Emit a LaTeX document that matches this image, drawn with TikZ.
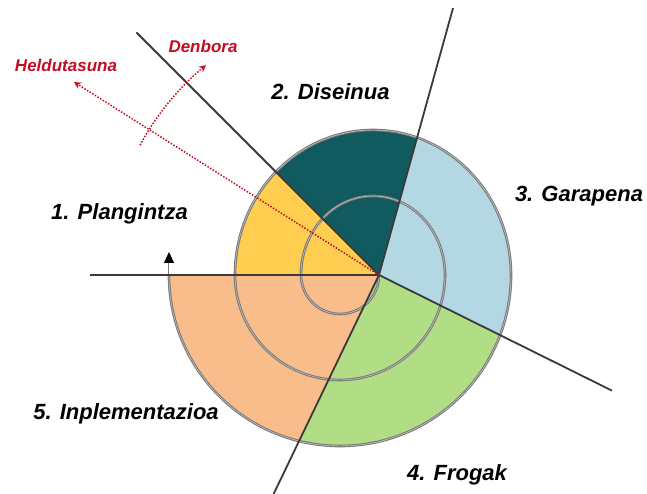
\documentclass[tikz,border=0pt]{standalone}
\usepackage{fontspec}
\setmainfont{Liberation Sans}
\usetikzlibrary{arrows.meta}

\definecolor{planfill}{HTML}{FFCD50}
\definecolor{designfill}{HTML}{105A60}
\definecolor{devfill}{HTML}{B3D8E4}
\definecolor{testfill}{HTML}{B1DE85}
\definecolor{implfill}{HTML}{F8BD8B}
\definecolor{axisgray}{HTML}{3A3A3A}
\definecolor{spiralgray}{HTML}{7A7A7A}
\definecolor{redline}{HTML}{C20E24}

\tikzset{
  outline/.style={insert path={
    (-144,0) arc[start angle=180,end angle=0,x radius=138,y radius=145]
             arc[start angle=0,end angle=-180,radius=171] -- cycle}},
  spiralline/.style={draw=spiralgray, line width=1.1pt,
    double=spiralgray!35!white, double distance=0.45pt},
  radial/.style={draw=axisgray, line width=1.8pt},
  reddot/.style={draw=redline, line width=1.5pt, dash pattern=on 1.5pt off 1.6pt,
    -{Stealth[length=7pt,width=7pt]}},
  phase/.style={font=\fontsize{22}{26}\selectfont\bfseries\itshape, anchor=base, inner sep=0pt},
  axislabel/.style={font=\fontsize{17}{20}\selectfont\bfseries\itshape, text=redline, anchor=base, inner sep=0pt}
}

\begin{document}
\begin{tikzpicture}[x=1pt,y=1pt]
\useasboundingbox (-379,-219) rectangle (268,275);
\fill[white] (-379,-219) rectangle (268,275);

\coordinate (C) at (0,0);

% coloured phase sectors, each one cut out of the spiral's outer outline
\begin{scope}
  \clip (C) -- (135:600) -- (180:600) -- cycle;
  \fill[planfill, outline];
\end{scope}
\begin{scope}
  \clip (C) -- (74.5:600) -- (105:600) -- (135:600) -- cycle;
  \fill[designfill, outline];
\end{scope}
\begin{scope}
  \clip (C) -- (-26.4:600) -- (24:600) -- (74.5:600) -- cycle;
  \fill[devfill, outline];
\end{scope}
\begin{scope}
  \clip (C) -- (-115.7:600) -- (-71:600) -- (-26.4:600) -- cycle;
  \fill[testfill, outline];
\end{scope}
\begin{scope}
  \clip (C) -- (180:600) -- (212:600) -- (244.3:600) -- cycle;
  \fill[implfill, outline];
\end{scope}

% the spiral itself, half turns alternating between two centres
\draw[spiralline] (C)
  arc[start angle=0,end angle=-180,radius=39]
  arc[start angle=180,end angle=0,x radius=72,y radius=79]
  arc[start angle=0,end angle=-180,radius=105]
  arc[start angle=180,end angle=0,x radius=138,y radius=145]
  arc[start angle=0,end angle=-180,radius=171] coordinate (spiralend);
\coordinate (spiraltip) at (-210,23);
\draw[draw=spiralgray, line width=1pt, -{Triangle[length=11pt,width=10pt,color=black]}]
  (spiralend) -- (spiraltip);

% phase boundaries
\coordinate (b1) at (180:289);
\coordinate (b2) at (135:343);
\coordinate (b3) at (74.5:277);
\coordinate (b4) at (-26.4:260);
\coordinate (b5) at (-115.7:243);
\foreach \b in {b1,b2,b3,b4,b5} \draw[radial] (C) -- (\b);

% maturity and time axes
\coordinate (matur) at (-305,193);
\draw[reddot] (C) -- (matur);
\coordinate (time0) at (151.5:272);
\draw[reddot] (time0) arc[start angle=151.5,end angle=129.5,radius=272];

% labels
\node[axislabel] (lmatur) at (-313,203) {Heldutasuna};
\node[axislabel] (ltime) at (-176,222) {Denbora};
\node[phase] (l1) at (-259.5,55) {1. Plangintza};
\node[phase] (l2) at (-48.5,175) {2. Diseinua};
\node[phase] (l3) at (200,73) {3. Garapena};
\node[phase] (l4) at (78,-205) {4. Frogak};
\node[phase] (l5) at (-253,-145) {5. Inplementazioa};
\end{tikzpicture}
\end{document}
